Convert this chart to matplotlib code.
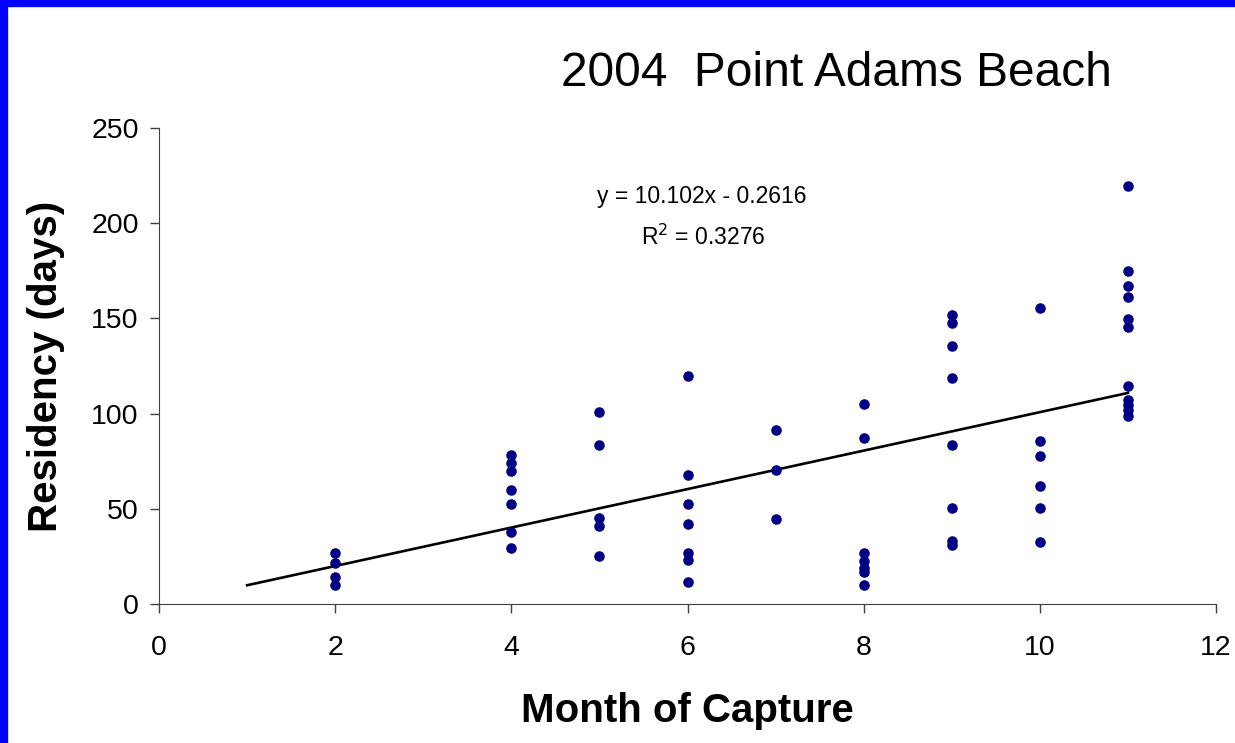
import numpy as np
import matplotlib.pyplot as plt
from matplotlib.patches import Rectangle

plt.rcParams['font.family'] = ['Liberation Sans', 'DejaVu Sans']

# Residency values, grouped by month of capture
month_2 = [26.8, 21.5, 14.2, 10.0]
month_4 = [78.0, 74.0, 70.0, 60.0, 52.5, 38.0, 29.4]
month_5 = [101.0, 83.5, 45.0, 41.0, 25.2]
month_6 = [120.0, 67.8, 52.5, 42.0, 26.8, 23.0, 11.5]
month_7 = [91.4, 70.4, 44.6]
month_8 = [105.0, 87.2, 26.8, 22.6, 19.0, 16.8, 10.0]
month_9 = [151.8, 147.6, 135.5, 118.7, 83.5, 50.4, 33.0, 31.0]
month_10 = [155.5, 85.6, 77.7, 62.0, 50.4, 32.6]
month_11 = [219.5, 175.0, 167.0, 161.0, 149.7, 145.5, 114.5, 107.0, 104.5, 102.0, 98.7]

groups = {2: month_2, 4: month_4, 5: month_5, 6: month_6, 7: month_7,
          8: month_8, 9: month_9, 10: month_10, 11: month_11}

# trend line as printed on the chart
slope = 10.102
intercept = -0.2616
trend_x = [1, 11]

x = []
y = []
for m, vals in groups.items():
    x += [m] * len(vals)
    y += vals

fig = plt.figure(figsize=(12.35, 7.43), dpi=100)
ax = fig.add_axes([159 / 1235, 1 - 604 / 743, (1216 - 159) / 1235, (604 - 128) / 743])

ax.plot(x, y, 'o', color='#000080', markersize=7.6, markeredgewidth=0, zorder=3)
tx = np.array(trend_x)
ax.plot(tx, slope * tx + intercept, color='black', linewidth=1.9, zorder=2)

ax.set_xlim(0, 12)
ax.set_ylim(0, 250)
ax.set_xticks(range(0, 13, 2))
ax.set_yticks(range(0, 251, 50))
ax.tick_params(labelsize=20.5, length=6.5, width=1, color='#404040')
ax.tick_params(axis='x', pad=16)
ax.tick_params(axis='y', pad=8)
for s in ['top', 'right']:
    ax.spines[s].set_visible(False)
for s in ['left', 'bottom']:
    ax.spines[s].set_color('#404040')

ax.set_xlabel('Month of Capture', fontsize=29, fontweight='bold', labelpad=22)
ax.set_ylabel('Residency (days)', fontsize=29, fontweight='bold', labelpad=19)

fig.text(836 / 1235, 1 - 73 / 743, '2004  Point Adams Beach', fontsize=34.5,
         ha='center', va='center')
fig.text(702 / 1235, 1 - 197 / 743, 'y = 10.102x - 0.2616', fontsize=16.5,
         ha='center', va='center')
fig.text(703 / 1235, 1 - 237 / 743, 'R$^2$ = 0.3276', fontsize=16.5,
         ha='center', va='center')

# blue frame strips on the left and top edges
fig.patches.append(Rectangle((0, 0), 7 / 1235, 1, transform=fig.transFigure,
                             color='#0000FF', zorder=10))
fig.patches.append(Rectangle((0, 1 - 6 / 743), 1, 6 / 743, transform=fig.transFigure,
                             color='#0000FF', zorder=10))

fig.savefig('out.png', dpi=100)
